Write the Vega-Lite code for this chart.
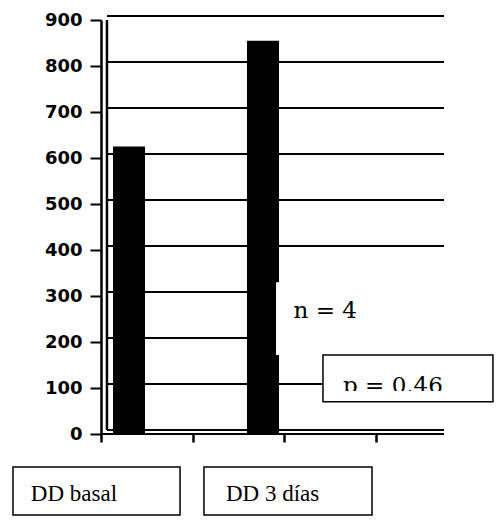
{
  "$schema": "https://vega.github.io/schema/vega-lite/v6.json",
  "autosize": {"type": "none"},
  "padding": {"left": 101, "top": 20, "right": 0, "bottom": 90},
  "width": 397,
  "height": 414,
  "background": "white",
  "config": {
    "view": {"stroke": null},
    "axis": {"grid": false, "title": null},
    "axisY": {
      "domainColor": "black", "domainWidth": 2.5,
      "tickColor": "black", "tickWidth": 2, "tickSize": 11,
      "labelFont": "DejaVu Sans", "labelFontWeight": "bold", "labelFontSize": 18,
      "labelColor": "black", "labelPadding": 8
    },
    "axisX": {
      "domain": false, "labels": false,
      "tickColor": "black", "tickWidth": 2.5, "tickSize": 8
    }
  },
  "datasets": {
    "barras": [
      {"grupo": "DD basal", "valor": 625},
      {"grupo": "DD 3 días", "valor": 855}
    ],
    "rejilla": [
      {"nivel": 0}, {"nivel": 100}, {"nivel": 200}, {"nivel": 300}, {"nivel": 400},
      {"nivel": 500}, {"nivel": 600}, {"nivel": 700}, {"nivel": 800}, {"nivel": 900}
    ],
    "fondo": [
      {"caja": "n", "x1": 1.909, "x2": 3.752, "y1": 330, "y2": 172}
    ],
    "cajas": [
      {"caja": "p", "x1": 2.421, "x2": 4.275, "y1": 172, "y2": 70},
      {"caja": "basal", "x1": -0.96, "x2": 0.862, "y1": -71.7, "y2": -176},
      {"caja": "3dias", "x1": 1.123, "x2": 2.956, "y1": -71.7, "y2": -176}
    ],
    "recorte": [
      {"caja": "p", "x1": 2.438, "x2": 4.259, "y1": 93.5, "y2": 72.8}
    ],
    "notas": [
      {"texto": "n = 4", "x": 2.1, "y": 252},
      {"texto": "p = 0.46", "x": 2.64, "y": 89}
    ],
    "etiquetas": [
      {"texto": "DD basal", "x": -0.765, "y": -145.6},
      {"texto": "DD 3 días", "x": 1.363, "y": -145.6}
    ]
  },
  "layer": [
    {
      "layer": [
        {
          "data": {"name": "rejilla"},
          "mark": {"type": "rule", "color": "black", "strokeWidth": 2, "yOffset": -4, "clip": false},
          "encoding": {
            "y": {"field": "nivel", "type": "quantitative",
                  "scale": {"domain": [0, 900], "nice": false, "zero": true},
                  "axis": {"values": [0, 100, 200, 300, 400, 500, 600, 700, 800, 900]}},
            "x": {"datum": 0.065, "type": "quantitative",
                  "scale": {"domain": [0, 4.33], "nice": false, "zero": false},
                  "axis": {"values": [0, 1, 2, 3], "orient": "bottom"}},
            "x2": {"datum": 3.741}
          }
        },
        {
          "data": {"values": [{}]},
          "mark": {"type": "rule", "color": "black", "strokeWidth": 2, "clip": false},
          "encoding": {
            "y": {"datum": 0, "type": "quantitative"},
            "x": {"datum": 0, "type": "quantitative"},
            "x2": {"datum": 3.741}
          }
        },
        {
          "data": {"values": [{}]},
          "mark": {"type": "rule", "color": "black", "strokeWidth": 2.5, "yOffset": -4, "clip": false},
          "encoding": {
            "x": {"datum": 0.065, "type": "quantitative"},
            "y": {"datum": 0, "type": "quantitative"},
            "y2": {"datum": 900}
          }
        }
      ]
    },
    {
      "data": {"name": "barras"},
      "mark": {"type": "bar", "color": "black", "clip": false},
      "encoding": {
        "x": {"field": "grupo", "type": "nominal",
              "scale": {"domain": ["DD basal", "DD 3 días"], "range": [12, 178], "paddingInner": 0.761, "paddingOuter": 0},
              "axis": null},
        "y": {"field": "valor", "type": "quantitative"}
      }
    },
    {
      "layer": [
        {
          "data": {"name": "fondo"},
          "mark": {"type": "rect", "fill": "white", "clip": false},
          "encoding": {
            "x": {"field": "x1", "type": "quantitative",
                  "scale": {"domain": [0, 4.33], "nice": false, "zero": false}, "axis": null},
            "x2": {"field": "x2"},
            "y": {"field": "y1", "type": "quantitative"},
            "y2": {"field": "y2"}
          }
        },
        {
          "data": {"name": "cajas"},
          "mark": {"type": "rect", "fill": "white", "stroke": "black", "strokeWidth": 1.5, "clip": false},
          "encoding": {
            "x": {"field": "x1", "type": "quantitative"},
            "x2": {"field": "x2"},
            "y": {"field": "y1", "type": "quantitative"},
            "y2": {"field": "y2"}
          }
        },
        {
          "data": {"name": "notas"},
          "mark": {"type": "text", "font": "DejaVu Serif", "fontSize": 23, "align": "left", "baseline": "alphabetic", "color": "black", "clip": false},
          "encoding": {
            "x": {"field": "x", "type": "quantitative"},
            "y": {"field": "y", "type": "quantitative"},
            "text": {"field": "texto"}
          }
        },
        {
          "data": {"name": "recorte"},
          "mark": {"type": "rect", "fill": "white", "clip": false},
          "encoding": {
            "x": {"field": "x1", "type": "quantitative"},
            "x2": {"field": "x2"},
            "y": {"field": "y1", "type": "quantitative"},
            "y2": {"field": "y2"}
          }
        },
        {
          "data": {"name": "etiquetas"},
          "mark": {"type": "text", "font": "Liberation Serif", "fontSize": 23, "align": "left", "baseline": "alphabetic", "color": "black", "clip": false},
          "encoding": {
            "x": {"field": "x", "type": "quantitative"},
            "y": {"field": "y", "type": "quantitative"},
            "text": {"field": "texto"}
          }
        }
      ]
    }
  ],
  "resolve": {"scale": {"x": "independent"}, "axis": {"x": "independent"}}
}
